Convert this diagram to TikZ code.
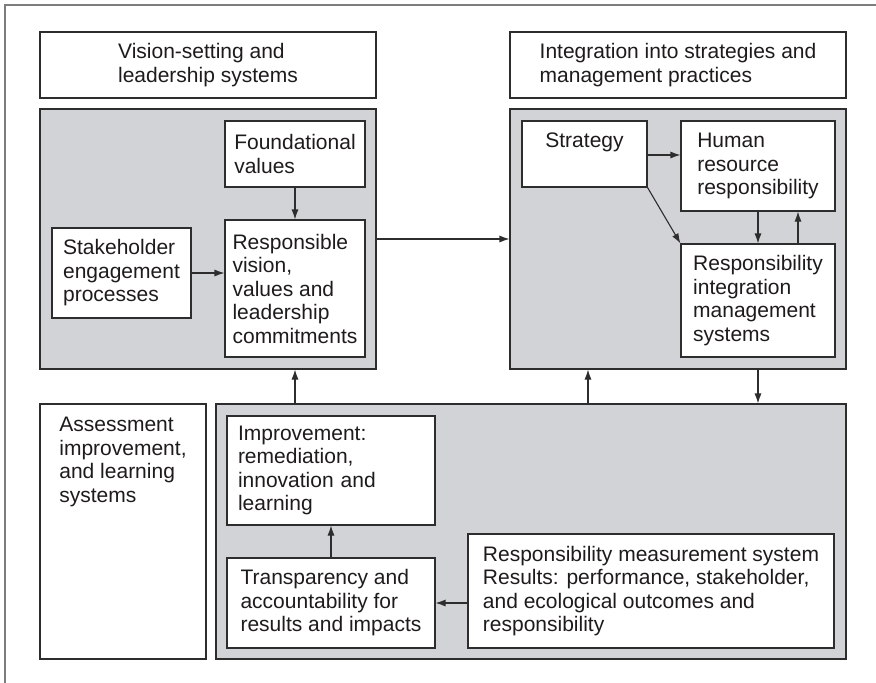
\documentclass[tikz,border=0pt]{standalone}
\usepackage{fontspec}
\setmainfont{Liberation Sans}
\usetikzlibrary{arrows.meta,calc}
\definecolor{panelgrey}{RGB}{210,211,214}
\definecolor{edge}{RGB}{45,45,45}
\definecolor{ink}{RGB}{30,27,28}
\definecolor{framegrey}{RGB}{125,125,125}
\tikzset{
  every node/.style={font=\fontsize{21}{23.5}\selectfont, text=ink},
  box/.style={draw=edge, line width=1.1pt, fill=white, inner sep=0pt, align=left},
  panel/.style={draw=edge, line width=1.1pt, fill=panelgrey, inner sep=0pt},
  arr/.style={draw=edge, line width=1.1pt, -{Latex[length=10pt,width=7pt]}},
}
\begin{document}
\begin{tikzpicture}[x=1pt,y=-1pt]
\useasboundingbox (0,0) rectangle (876,683);
% outer frame
\coordinate (fa) at (5,683);
\coordinate (fb) at (5,5);
\coordinate (fc) at (876,5);
\draw[framegrey, line width=1.2pt] (fa) -- (fb) -- (fc);

% headers
\node[box, minimum width=336, minimum height=66] (hl) at (208,65) {Vision-setting and\\leadership systems};
\node[box, minimum width=336, minimum height=66] (hr) at (678,65) {Integration into strategies and\\management practices};

% panels
\node[panel, minimum width=336, minimum height=260] (lg) at (208,239) {};
\node[panel, minimum width=336, minimum height=260] (rg) at (678,239) {};
\node[panel, minimum width=630, minimum height=255] (bg) at (531,531.5) {};

% left panel content
\node[box, minimum width=140, minimum height=66] (fv) at (295,154) {Foundational\\values};
\node[box, minimum width=140, minimum height=137] (rv) at (295,288.5) {Responsible\\vision,\\values and\\leadership\\commitments};
\node[box, minimum width=139, minimum height=90] (sh) at (121.5,273) {Stakeholder\\engagement\\processes};

% right panel content
\node[box, minimum width=125, minimum height=66] (st) at (584.5,154) {};
\node[anchor=north, inner sep=0pt] (stt) at (584.5,133) {\vphantom{S}Strategy};
\node[box, minimum width=154, minimum height=90] (hrr) at (758,166) {Human\\resource\\responsibility};
\node[box, minimum width=154, minimum height=113] (ri) at (758,300.5) {Responsibility\\integration\\management\\systems};

% bottom
\node[box, minimum width=166, minimum height=255] (as) at (123,531.5) {};
\node[anchor=north, inner sep=0pt, align=left] (ast) at (123,417) {Assessment\\improvement,\\and learning\\systems};
\node[box, minimum width=208, minimum height=109, text width=186, inner xsep=11pt] (im) at (331,470.5) {Improvement:\\remediation,\\innovation and\\learning};
\node[box, minimum width=208, minimum height=90] (tr) at (331,603) {Transparency and\\accountability for\\results and impacts};
\node[box, minimum width=366, minimum height=114] (rm) at (651,591) {Responsibility measurement system\\Results: performance, stakeholder,\\and ecological outcomes and\\responsibility};

% connectors
\draw[arr] (fv.south) -- (rv.north);
\draw[arr] (sh.east) -- (sh.east -| rv.west);
\draw[arr] (lg.east) -- (rg.west);
\draw[arr] ([yshift=-1pt]st.east) -- ([yshift=-1pt]st.east -| hrr.west);
\draw[arr] (st.south east) -- (ri.north west);
\draw[arr] (hrr.south) -- (ri.north);
\draw[arr] ([xshift=40pt]ri.north) -- ([xshift=40pt]hrr.south);
\draw[arr] (bg.north -| rv.south) -- (lg.south -| rv.south);
\draw[arr] ([xshift=-90pt]rg.south |- bg.north) -- ([xshift=-90pt]rg.south);
\draw[arr] (rg.south -| ri.south) -- (bg.north -| ri.south);
\draw[arr] (tr.north) -- (im.south);
\draw[arr] (rm.west |- tr.east) -- (tr.east);
\end{tikzpicture}
\end{document}
